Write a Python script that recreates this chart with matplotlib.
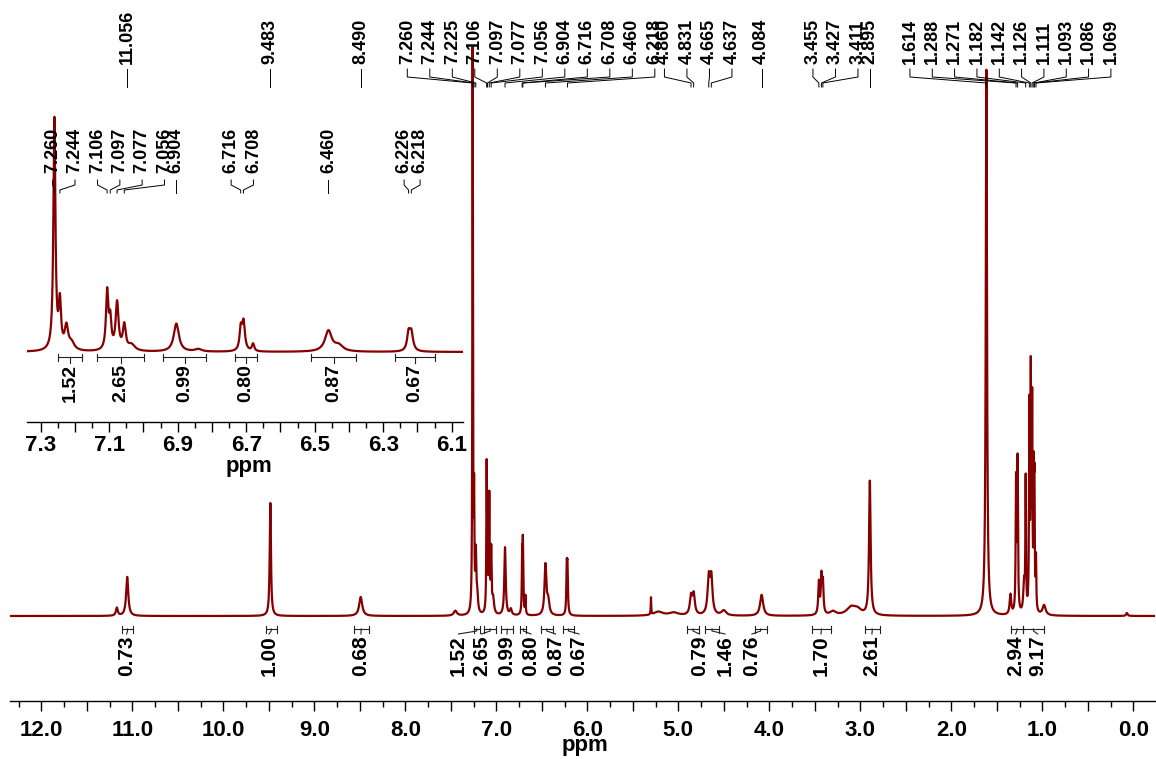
import numpy as np
import matplotlib
matplotlib.use('Agg')
import matplotlib.pyplot as plt
from matplotlib.ticker import MultipleLocator, FuncFormatter
from matplotlib.transforms import blended_transform_factory

plt.rcParams['font.family'] = ['Liberation Sans', 'DejaVu Sans']
plt.rcParams['font.weight'] = 'bold'

# ---- spectrum: lines (ppm, height above baseline, half width ppm)
peak_ppm = [11.17, 11.056, 9.483, 8.490, 7.45,
            7.260, 7.244, 7.225, 7.21, 7.106, 7.097, 7.077, 7.056, 7.035,
            6.904, 6.840, 6.716, 6.708, 6.680, 6.460, 6.430, 6.226, 6.218,
            5.300, 5.22, 5.05, 4.860, 4.831, 4.665, 4.637, 4.50, 4.084,
            3.455, 3.427, 3.411, 3.30, 3.10, 3.03, 2.895,
            1.614, 1.35, 1.288, 1.271, 1.20, 1.182, 1.142, 1.126, 1.111,
            1.093, 1.086, 1.069, 0.98, 0.07]
peak_height = [8, 39, 113, 19, 5,
               560, 110, 55, 18, 140, 70, 115, 60, 15,
               68, 6, 50, 70, 18, 50, 14, 40, 45,
               17, 4, 3, 18, 20, 36, 36, 5, 21,
               32, 36, 30, 4, 8, 5, 134,
               546, 20, 130, 150, 30, 130, 200, 230, 200,
               120, 110, 50, 10, 3]
peak_hwhm = [0.012, 0.014, 0.008, 0.02, 0.02,
             0.0035, 0.004, 0.006, 0.01, 0.004, 0.004, 0.005, 0.005, 0.012,
             0.009, 0.012, 0.004, 0.005, 0.004, 0.012, 0.015, 0.005, 0.006,
             0.003, 0.06, 0.06, 0.015, 0.015, 0.015, 0.015, 0.03, 0.02,
             0.008, 0.008, 0.008, 0.04, 0.06, 0.05, 0.01,
             0.008, 0.01, 0.005, 0.005, 0.01, 0.004, 0.004, 0.004, 0.004,
             0.004, 0.004, 0.004, 0.02, 0.01]

# ---- peak picking labels
main_shifts = [11.056, 9.483, 8.490,
               7.260, 7.244, 7.225, 7.106, 7.097, 7.077, 7.056, 6.904, 6.716, 6.708, 6.460, 6.218,
               4.860, 4.831, 4.665, 4.637, 4.084,
               3.455, 3.427, 3.411, 2.895,
               1.614, 1.288, 1.271, 1.182, 1.142, 1.126, 1.111, 1.093, 1.086, 1.069]
inset_shifts = [7.260, 7.244, 7.106, 7.097, 7.077, 7.056, 6.904,
                6.716, 6.708, 6.460, 6.226, 6.218]

# ---- integrals
main_int_values = [0.73, 1.00, 0.68, 1.52, 2.65, 0.99, 0.80, 0.87, 0.67,
                   0.79, 1.46, 0.76, 1.70, 2.61, 2.94, 9.17]
main_int_from = [11.116, 9.534, 8.567, 7.250, 7.136, 6.943, 6.734, 6.511, 6.265,
                 4.909, 4.707, 4.161, 3.535, 2.949, 1.345, 1.212]
main_int_to = [10.989, 9.413, 8.404, 7.180, 6.998, 6.817, 6.669, 6.379, 6.149,
               4.767, 4.553, 4.027, 3.321, 2.788, 1.212, 0.981]
inset_int_values = [1.52, 2.65, 0.99, 0.80, 0.87, 0.67]
inset_int_from = [7.250, 7.136, 6.943, 6.734, 6.511, 6.265]
inset_int_to = [7.180, 6.998, 6.817, 6.669, 6.379, 6.149]

# ---- layout (label placement, in ppm)
# groups of labels: (count, first label position or None = above the peak, step)
main_label_groups = [(1, None, 0), (1, None, 0), (1, None, 0), (12, 7.978, 0.2473),
                     (4, 5.152, 0.2473), (1, None, 0), (3, 3.520, 0.2473), (1, None, 0),
                     (10, 2.454, 0.2454)]
inset_label_groups = [(2, 7.265, 0.0651), (4, 7.134, 0.0651), (1, None, 0),
                      (2, 6.744, 0.0651), (1, None, 0), (2, 6.239, 0.0467)]
main_int_label_at = [11.062, 9.498, 8.487, 7.415, 7.163, 6.882, 6.619, 6.348, 6.091,
                     4.767, 4.487, 4.190, 3.432, 2.872, 1.292, 1.050]
inset_int_label_at = None  # directly under the bracket

W, H = 1156, 759
RED = '#850000'


def fy(y):
    return 1 - y / H


def lorentz_sum(x):
    y = np.zeros_like(x)
    for p, h, w in zip(peak_ppm, peak_height, peak_hwhm):
        y += h / (1 + ((x - p) / w) ** 2)
    return y


def spread(shifts, groups):
    pos = []
    i = 0
    for n, first, step in groups:
        for k in range(n):
            pos.append(shifts[i] if first is None else first - k * step)
            i += 1
    return pos


def peak_labels(fig, ax, shifts, label_at, y_text, y1, y2, y3, y4, fs):
    tr = blended_transform_factory(ax.transData, fig.transFigure)
    for s, lp in zip(shifts, label_at):
        ax.text(lp, fy(y_text), '%.3f' % s, transform=tr, rotation=90,
                ha='center', va='bottom', fontsize=fs, fontweight='bold')
        ax.plot([lp, lp, s, s], [fy(y1), fy(y2), fy(y3), fy(y4)], transform=tr,
                color='k', lw=0.7, clip_on=False)


def integrals(fig, ax, values, a_list, b_list, label_at, y_br, y_text, fs):
    tr = blended_transform_factory(ax.transData, fig.transFigure)
    if label_at is None:
        label_at = [(a + b) / 2 for a, b in zip(a_list, b_list)]
    for v, a, b, lp in zip(values, a_list, b_list, label_at):
        ax.plot([a, b], [fy(y_br), fy(y_br)], transform=tr, color='#222222', lw=0.8, clip_on=False)
        for e in (a, b):
            ax.plot([e, e], [fy(y_br - 3.5), fy(y_br + 3.5)], transform=tr,
                    color='#222222', lw=0.8, clip_on=False)
        c = (a + b) / 2
        ax.plot([c, c, lp], [fy(y_br), fy(y_br + 2), fy(y_text - 1)], transform=tr,
                color='#222222', lw=0.8, clip_on=False)
        ax.text(lp, fy(y_text), '%.2f' % v, transform=tr, rotation=90,
                ha='center', va='top', fontsize=fs, fontweight='bold')


def style_axis(ax, major, minor, fmt, fs, pad):
    for side in ('left', 'right', 'top'):
        ax.spines[side].set_visible(False)
    ax.spines['bottom'].set_linewidth(1.0)
    ax.set_yticks([])
    ax.xaxis.set_major_locator(MultipleLocator(major))
    ax.xaxis.set_minor_locator(MultipleLocator(minor))
    ax.xaxis.set_major_formatter(FuncFormatter(fmt))
    ax.tick_params(axis='x', which='major', direction='out', length=7, width=1,
                   labelsize=fs, pad=pad)
    ax.tick_params(axis='x', which='minor', direction='out', length=4, width=1)
    for t in ax.get_xticklabels():
        t.set_fontweight('bold')
    ax.patch.set_alpha(0)


fig = plt.figure(figsize=(W / 100, H / 100), dpi=100)

x = np.linspace(12.35, -0.25, 60000)
spec = lorentz_sum(x)

# main spectrum
ax = fig.add_axes([10 / W, fy(701), 1145 / W, 671 / H])
ax.plot(x, spec, color=RED, lw=1.6)
ax.set_xlim(12.344, -0.239)
ax.set_ylim(-85, 586)
style_axis(ax, 0.5, 0.25,
           lambda v, p: '%.1f' % v if abs(v - round(v)) < 1e-6 else '', 16, 6.5)
fig.text(585 / W, fy(751), 'ppm', ha='center', va='baseline', fontsize=16, fontweight='bold')

peak_labels(fig, ax, main_shifts, spread(main_shifts, main_label_groups),
            64, 69, 77, 83, 87, 13)
integrals(fig, ax, main_int_values, main_int_from, main_int_to, main_int_label_at,
          629, 635, 15)

# expanded aromatic region
ax2 = fig.add_axes([27 / W, fy(422), 436 / W, 317 / H])
xi = np.linspace(7.36, 6.05, 20000)
ax2.plot(xi, lorentz_sum(xi), color=RED, lw=1.6)
ax2.set_xlim(7.34, 6.067)
ax2.set_ylim(-169.4, 597.7)
style_axis(ax2, 0.1, 0.05,
           lambda v, p: '%.1f' % v if int(round(v * 10)) % 2 == 1 else '', 16, 2)
fig.text(249 / W, fy(472), 'ppm', ha='center', va='baseline', fontsize=16, fontweight='bold')

peak_labels(fig, ax2, inset_shifts, spread(inset_shifts, inset_label_groups),
            173, 180, 185, 190, 193, 13)
integrals(fig, ax2, inset_int_values, inset_int_from, inset_int_to, inset_int_label_at,
          357, 364, 14)

fig.savefig('out.png', dpi=100)
